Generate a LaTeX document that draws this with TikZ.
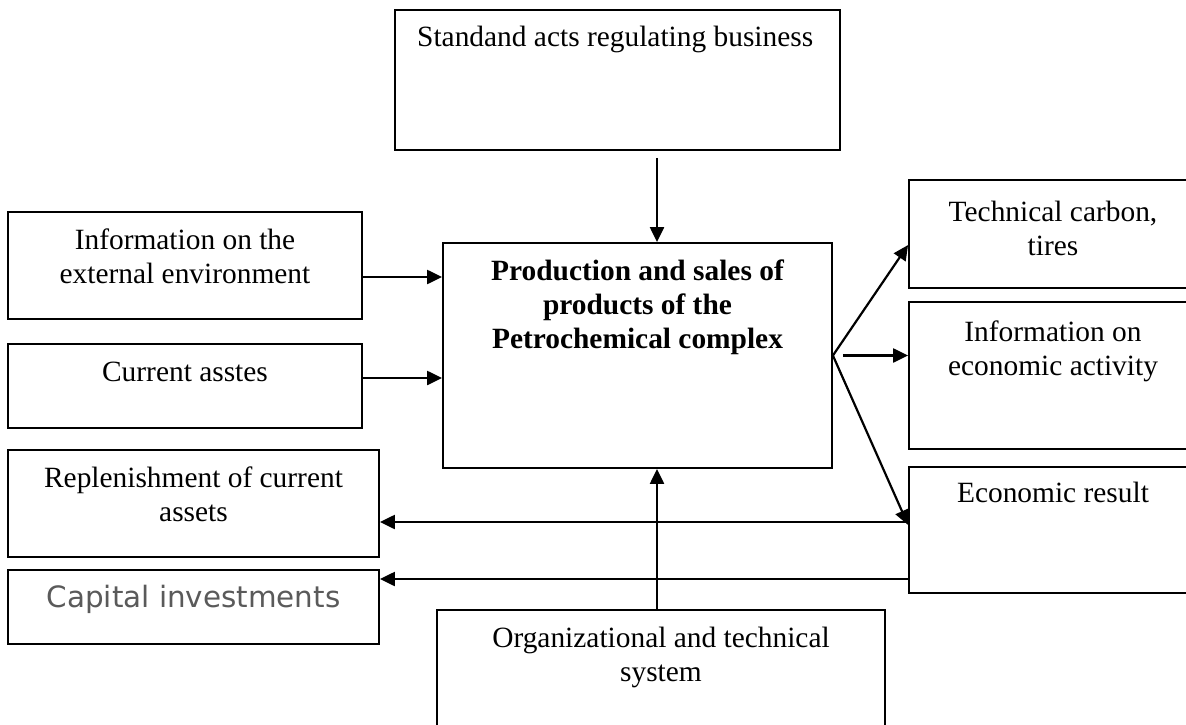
\documentclass[tikz,border=0pt]{standalone}
\usepackage{fontspec}
\setmainfont{Liberation Serif}
\newfontfamily\dejavu{DejaVu Sans}
\usetikzlibrary{arrows.meta}
\definecolor{capgray}{RGB}{90,90,90}
\begin{document}
\begin{tikzpicture}[x=1pt,y=-1pt,
  box/.style={draw, line width=1.8pt, rectangle, inner sep=0pt, anchor=center},
  txt/.style={inner sep=0pt, anchor=base, font=\fontsize{29.4}{34}\selectfont},
  arr/.style={line width=2.2pt, -{Triangle[length=15pt,width=14pt]}}
]
\useasboundingbox (0,0) rectangle (1186,725);
\fill[white] (0,0) rectangle (1186,725);
\clip (0,0) rectangle (1186,725);

% boxes
\node[box, minimum width=445pt, minimum height=140pt] (std) at (617.5,80) {};
\node[box, minimum width=389pt, minimum height=225pt] (main) at (637.5,355.5) {};
\node[box, minimum width=354pt, minimum height=107pt] (info) at (185,265.5) {};
\node[box, minimum width=354pt, minimum height=84pt] (cur) at (185,386) {};
\node[box, minimum width=371pt, minimum height=107pt] (repl) at (193.5,503.5) {};
\node[box, minimum width=371pt, minimum height=74pt] (cap) at (193.5,607) {};
\node[box, minimum width=288pt, minimum height=108pt] (tech) at (1053,234) {};
\node[box, minimum width=288pt, minimum height=147pt] (einfo) at (1053,375.5) {};
\node[box, minimum width=288pt, minimum height=126pt] (res) at (1053,530) {};
\node[box, minimum width=448pt, minimum height=140pt] (org) at (661,680) {};

% texts
\node[txt, anchor=base west] (tstd) at (417,47) {Standand acts regulating business};
\node[txt, font=\fontsize{29.4}{34}\selectfont\bfseries] (tm1) at (637.5,280) {Production and sales of};
\node[txt, font=\fontsize{29.4}{34}\selectfont\bfseries] (tm2) at (637.5,314) {products of the};
\node[txt, font=\fontsize{29.4}{34}\selectfont\bfseries] (tm3) at (637.5,348) {Petrochemical complex};
\node[txt] (ti1) at (185,249) {Information on the};
\node[txt] (ti2) at (185,283) {external environment};
\node[txt] (tc1) at (185,381) {Current asstes};
\node[txt] (tr1) at (193.5,487) {Replenishment of current};
\node[txt] (tr2) at (193.5,521) {assets};
\node[txt, text=capgray, font=\fontsize{29.4}{34}\dejavu] (tcap) at (193.5,607) {Capital investments};
\node[txt] (tt1) at (1053,221) {Technical carbon,};
\node[txt] (tt2) at (1053,255) {tires};
\node[txt] (te1) at (1053,341) {Information on};
\node[txt] (te2) at (1053,375) {economic activity};
\node[txt] (tres) at (1053,502) {Economic result};
\node[txt] (to1) at (661,647) {Organizational and technical};
\node[txt] (to2) at (661,681) {system};

% connectors
\coordinate (mt) at ([xshift=19.5pt]main.north);
\draw[arr, shorten <=7pt] (mt |- std.south) -- (mt);
\coordinate (mb) at ([xshift=19.5pt]main.south);
\draw[arr] (mb |- org.north) -- (mb);
\coordinate (i1) at ([yshift=-11.5pt]info.east);
\draw[arr] (i1) -- (i1 -| main.west);
\coordinate (c1) at ([yshift=8pt]cur.east);
\draw[arr] (c1) -- (c1 -| main.west);
\draw[arr] (main.east) -- ([yshift=-11pt]tech.west);
\draw[arr, shorten <=10pt] (main.east) -- (main.east -| einfo.west);
\draw[arr] (main.east) -- ([yshift=5pt]res.west);
\coordinate (r1) at ([yshift=8pt]res.west);
\draw[arr] (r1) -- (r1 -| repl.east);
\coordinate (r2) at ([yshift=-49pt]res.west);
\draw[arr] (r2) -- (r2 -| cap.east);
\end{tikzpicture}
\end{document}
